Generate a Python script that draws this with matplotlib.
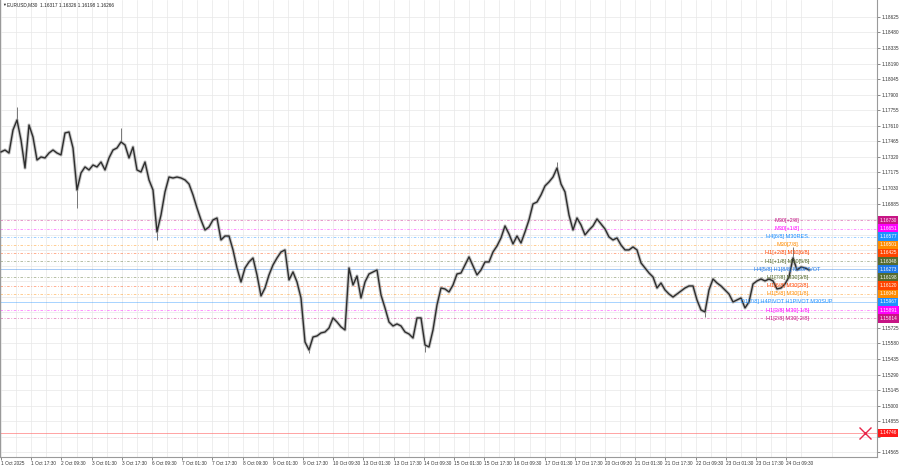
import matplotlib
matplotlib.use("Agg")
import matplotlib.pyplot as plt
from matplotlib.transforms import blended_transform_factory

plt.rcParams["font.family"] = ["Liberation Sans", "DejaVu Sans"]

# ---------------- data ----------------
symbol = "EURUSD,M30"
header_ohlc = ["1.16317", "1.16326", "1.16198", "1.16266"]

closes = [
    1.17366, 1.17384, 1.17356, 1.17571, 1.17664, 1.17478, 1.17216, 1.17617, 1.17505, 1.17291,
    1.17319, 1.17310, 1.17356, 1.17384, 1.17356, 1.17338, 1.17543, 1.17552, 1.17403, 1.17011,
    1.17170, 1.17226, 1.17198, 1.17244, 1.17226, 1.17272, 1.17198, 1.17310, 1.17384, 1.17403,
    1.17459, 1.17431, 1.17310, 1.17412, 1.17198, 1.17179, 1.17272, 1.17105, 1.17011, 1.16620,
    1.16778, 1.16993, 1.17132, 1.17123, 1.17132, 1.17123, 1.17105, 1.17067, 1.16965, 1.16843,
    1.16732, 1.16638, 1.16666, 1.16732, 1.16750, 1.16545, 1.16582, 1.16582, 1.16452, 1.16284,
    1.16153, 1.16284, 1.16340, 1.16377, 1.16219, 1.16023, 1.16097, 1.16219, 1.16312, 1.16377,
    1.16433, 1.16452, 1.16172, 1.16247, 1.16153, 1.16004, 1.15594, 1.15519, 1.15640, 1.15650,
    1.15678, 1.15687, 1.15724, 1.15818, 1.15780, 1.15734, 1.15706, 1.16284, 1.16125, 1.16209,
    1.16004, 1.16153, 1.16228, 1.16247, 1.16265, 1.16032, 1.15911, 1.15780, 1.15743, 1.15762,
    1.15743, 1.15687, 1.15668, 1.15631, 1.15818, 1.15818, 1.15566, 1.15547, 1.15706, 1.15939,
    1.16097, 1.16088, 1.16060, 1.16125, 1.16228, 1.16237, 1.16312, 1.16387, 1.16303, 1.16219,
    1.16265, 1.16340, 1.16340, 1.16433, 1.16489, 1.16564, 1.16676, 1.16601, 1.16508, 1.16582,
    1.16517, 1.16620, 1.16732, 1.16881, 1.16899, 1.16965, 1.17049, 1.17086, 1.17132, 1.17216,
    1.17067, 1.16993, 1.16778, 1.16638, 1.16750, 1.16685, 1.16592, 1.16638, 1.16676, 1.16741,
    1.16694, 1.16648, 1.16573, 1.16545, 1.16564, 1.16498, 1.16452, 1.16452, 1.16480, 1.16452,
    1.16331, 1.16284, 1.16237, 1.16200, 1.16097, 1.16144, 1.16079, 1.16041, 1.16013, 1.16041,
    1.16069, 1.16097, 1.16116, 1.16116, 1.15985, 1.15892, 1.15874, 1.16079, 1.16181, 1.16144,
    1.16116, 1.16079, 1.16041, 1.15967, 1.15985, 1.16004, 1.15911, 1.15967, 1.16135, 1.16163,
    1.16181, 1.16163, 1.16181, 1.16163, 1.16088, 1.16097, 1.16135, 1.16200, 1.16377, 1.16265,
    1.16293, 1.16284, 1.16266,
]

# notable wick extremes (sample index, price)
wick_idx = [4, 19, 30, 39, 77, 106, 139, 176, 198]
wick_price = [1.17785, 1.16843, 1.17589, 1.16545, 1.15491, 1.15501, 1.17272, 1.15827, 1.16480]

time_labels = [
    "1 Oct 2025", "1 Oct 17:30", "2 Oct 09:30", "3 Oct 01:30", "3 Oct 17:30",
    "6 Oct 09:30", "7 Oct 01:30", "7 Oct 17:30", "8 Oct 09:30", "9 Oct 01:30",
    "9 Oct 17:30", "10 Oct 09:30", "13 Oct 01:30", "13 Oct 17:30", "14 Oct 09:30",
    "15 Oct 01:30", "15 Oct 17:30", "16 Oct 09:30", "17 Oct 01:30", "17 Oct 17:30",
    "20 Oct 09:30", "21 Oct 01:30", "21 Oct 17:30", "22 Oct 09:30", "23 Oct 01:30",
    "23 Oct 17:30", "24 Oct 09:30",
]

level_prices = [1.16730, 1.16651, 1.16577, 1.16501, 1.16425, 1.16348, 1.16273,
                1.16198, 1.16120, 1.16043, 1.15967, 1.15891, 1.15814]
level_names = ["M30[+2/8]", "M30[+1/8]", "H4[6/8] M30RES", "M30[7/8]",
               "H1[+2/8] M30[6/8]", "H1[+1/8] M30[5/8]", "H4[5/8] H1[8/8] M30PIVOT",
               "H1[7/8] M30[3/8]", "H1[6/8] M30[2/8]", "H1[5/8] M30[1/8]",
               "D1[7/8] H4PIVOT H1PIVOT M30SUP", "H1[3/8] M30[-1/8]", "H1[2/8] M30[-2/8]"]
level_colors = ["#C71585", "#FF00FF", "#1E90FF", "#FF8C00", "#FF4500", "#556B2F", "#1E78E6",
                "#556B2F", "#FF4500", "#FF8C00", "#1E90FF", "#FF00FF", "#C71585"]
level_solid = [False, False, False, False, False, False, True,
               False, False, False, True, False, False]

stop_price = 1.14746
stop_label_bar = 916

price_ticks = [1.14565, 1.14710, 1.14855, 1.15000, 1.15145, 1.15290, 1.15435, 1.15580,
               1.15725, 1.15870, 1.16015, 1.16160, 1.16305, 1.16450, 1.16595, 1.16740,
               1.16885, 1.17030, 1.17175, 1.17320, 1.17465, 1.17610, 1.17755, 1.17900,
               1.18045, 1.18190, 1.18335, 1.18480, 1.18625]

# ---------------- layout ----------------
W, H, DPI = 900, 468, 100
BAR_PX = 30.2 / 32.0          # pixel width of one M30 bar
SAMPLE_BARS = 4.0 / BAR_PX    # bars per sampled point
FS = 3.4

fig = plt.figure(figsize=(W / DPI, H / DPI), dpi=DPI)
fig.patch.set_facecolor("white")
ax = fig.add_axes([0.0, 11 / H, 877 / W, 457 / H])
ax.set_facecolor("white")

x = [i * SAMPLE_BARS for i in range(len(closes))]

# grid
ax.set_xlim(-1.0 / BAR_PX, 876.0 / BAR_PX)
ax.set_ylim(1.14521, 1.18783)
major_x = [32 * k for k in range(len(time_labels))]
ax.set_xticks(major_x)
ax.set_xticklabels(time_labels)
ax.set_xticks([16 + 32 * k for k in range(len(time_labels) + 1)], minor=True)
for lbl in ax.get_xticklabels():
    lbl.set_horizontalalignment("left")
ax.tick_params(axis="x", which="both", length=2, width=0.4, labelsize=FS, pad=1.0,
               colors="#333333")
ax.tick_params(axis="x", which="minor", length=0)

ax.yaxis.tick_right()
ax.set_yticks(price_ticks)
hidden = lambda v: (1.15726 < v < 1.16884) or abs(v - 1.14710) < 1e-6
ax.set_yticklabels(["" if hidden(v) else f"{v:.5f}" for v in price_ticks])
ax.tick_params(axis="y", length=2, width=0.4, labelsize=FS, pad=1.5, colors="#333333")

ax.grid(True, which="both", color="#e8e8e8", linewidth=0.5)
ax.set_axisbelow(True)
ax.spines["top"].set_visible(False)
for s in ["left", "right", "bottom"]:
    ax.spines[s].set_color("#9a9a9a")
    ax.spines[s].set_linewidth(0.8)

# level lines
for p, c, solid in zip(level_prices, level_colors, level_solid):
    if solid:
        ax.axhline(p, color=c, lw=0.6, alpha=0.45, zorder=1)
    else:
        ax.axhline(p, color=c, lw=0.6, alpha=0.5, ls=(0, (3, 2, 1, 2)), zorder=1)

# stop line and marker
ax.axhline(stop_price, color="#FF7070", lw=0.6, alpha=0.75, zorder=1)
ax.plot([stop_label_bar], [stop_price], marker="x", color="#E8264A", markersize=9,
        mew=1.0, zorder=5)

# price series
ax.vlines([x[i] for i in wick_idx], [closes[i] for i in wick_idx], wick_price,
          color="#777777", lw=0.7, zorder=2)
ax.plot(x, closes, color="#a0a0a0", lw=2.4, alpha=0.6, zorder=2)
ax.plot(x, closes, color="#2e2e2e", lw=1.0, zorder=3)

# level texts inside chart
for p, n, c in zip(level_prices, level_names, level_colors):
    ax.text(833, p, n, color=c, fontsize=FS + 0.6, ha="center", va="center", zorder=4)

# right-side price boxes
tr = blended_transform_factory(ax.transAxes, ax.transData)
for p, c in zip(level_prices + [stop_price], level_colors + ["#FF1A1A"]):
    ax.text(1.0025, p, f"{p:.5f}", transform=tr, color="white", fontsize=FS,
            ha="left", va="center", clip_on=False, zorder=6,
            bbox=dict(boxstyle="square,pad=0.35", fc=c, ec=c, lw=0))

# header
fig.text(2 / W, 1 - 5 / H, "\u25bc", fontsize=2.8, color="#222222", va="center", ha="left")
fig.text(7 / W, 1 - 5 / H, symbol + "  " + " ".join(header_ohlc), fontsize=FS,
         color="#222222", va="center", ha="left")

fig.savefig("out.png", dpi=DPI, facecolor="white")
